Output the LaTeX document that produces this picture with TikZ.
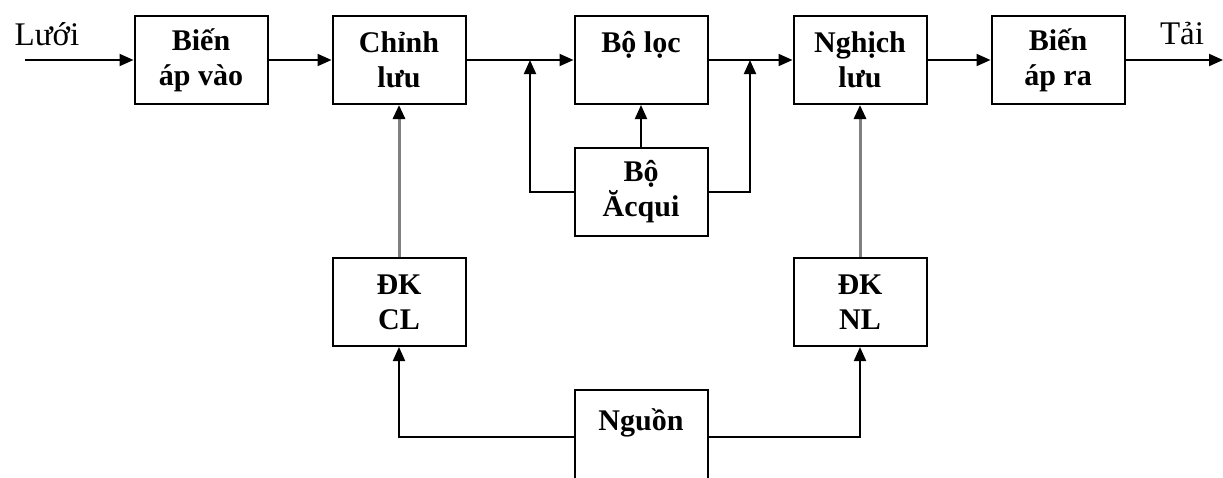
\documentclass[tikz,border=0pt]{standalone}
\usepackage{fontspec}
\setmainfont{Liberation Serif}
\usepackage{tikz}
\usetikzlibrary{arrows.meta,positioning}
\tikzset{
  >={Triangle[length=14pt,width=12pt]},
  flow/.style={->,line width=2pt,draw=black},
  ctrlflow/.style={-{Triangle[length=14pt,width=12pt,color=black]},line width=3pt,draw=black!50},
  block/.style={draw=black,line width=2pt,fill=white,align=center,
                minimum width=133pt,minimum height=88pt,inner sep=2pt,
                font=\bfseries\fontsize{30}{35}\selectfont},
  label/.style={font=\fontsize{33}{36}\selectfont,inner sep=0pt}
}
\newcommand{\blankline}{\phantom{lưu}}

\begin{document}
\begin{tikzpicture}[x=1pt,y=-1pt]
  \useasboundingbox (0,0) rectangle (1223,477);
  % main power path
  \node[block] (bav) at (201,60) {Biến\\áp vào};
  \node[block,right=63pt of bav] (cl) {Chỉnh\\lưu};
  \node[block,right=107pt of cl] (loc) {Bộ lọc\\\blankline};
  \node[block,right=84pt of loc] (nl) {Nghịch\\lưu};
  \node[block,right=63pt of nl] (bar) {Biến\\áp ra};
  % battery, control and supply
  \node[block,below=42pt of loc] (acq) {Bộ\\Ăcqui};
  \node[block,below=152pt of cl] (dkcl) {ĐK\\CL};
  \node[block,below=152pt of nl] (dknl) {ĐK\\NL};
  \node[block,minimum height=94pt,below=152pt of acq] (nguon) {Nguồn\\\blankline};
  \node[label] (luoi) at (47,34) {Lưới};
  \node[label] (tai) at (1182,34) {Tải};
  \coordinate (in) at (25,60);
  \coordinate (out) at (1223,60);
  \coordinate (j1) at (530,60);
  \coordinate (j2) at (750,60);
  \draw[flow] (in)--(bav); \draw[flow] (bav)--(cl); \draw[flow] (cl)--(loc);
  \draw[flow] (loc)--(nl); \draw[flow] (nl)--(bar); \draw[flow] (bar)--(out);
  \draw[flow] (acq)--(loc);
  \draw[flow] (acq.west) -| (j1); \draw[flow] (acq.east) -| (j2);
  \draw[ctrlflow] (dkcl)--(cl); \draw[ctrlflow] (dknl)--(nl);
  \draw[flow] (nguon.west) -| (dkcl.south); \draw[flow] (nguon.east) -| (dknl.south);
\end{tikzpicture}
\end{document}
